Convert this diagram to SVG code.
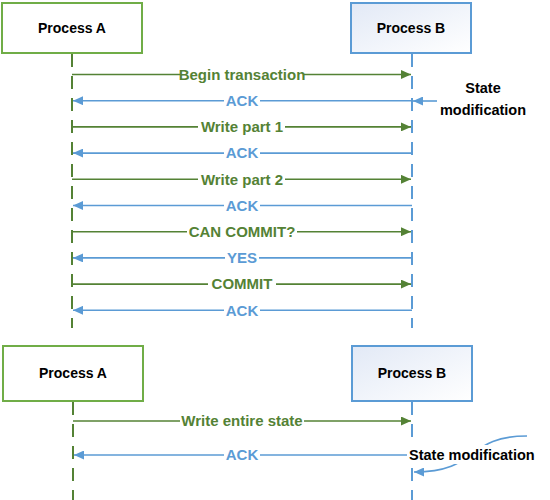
<svg xmlns="http://www.w3.org/2000/svg" width="550" height="500" viewBox="0 0 550 500">
<style>
.boxA{fill:#fff;stroke:#70ad47;stroke-width:2}
.boxB{fill:url(#gB);stroke:#5b9bd5;stroke-width:2}
.title{font-family:"Liberation Sans",Arial,sans-serif;font-weight:bold;font-size:14px;fill:#000;text-anchor:middle}
.lifeA{stroke:#548235;stroke-width:2;stroke-dasharray:13 9;fill:none}
.lifeB{stroke:#5b9bd5;stroke-width:2;stroke-dasharray:13 9;fill:none}
.msgG{stroke:#548235;stroke-width:1.6;fill:none;marker-end:url(#arrG)}
.msgB{stroke:#5b9bd5;stroke-width:1.6;fill:none;marker-end:url(#arrB)}
.lbl{font-family:"Liberation Sans",Arial,sans-serif;font-weight:bold;font-size:15px;text-anchor:middle}
.lg{fill:#548235}
.lb{fill:#5b9bd5}
.bg{fill:#fff}
.note{font-family:"Liberation Sans",Arial,sans-serif;font-weight:bold;font-size:14.5px;fill:#000}
</style>
<defs>
<linearGradient id="gB" x1="0" y1="0" x2="1" y2="1">
<stop offset="0" stop-color="#e2e9f6"/>
<stop offset="1" stop-color="#ffffff"/>
</linearGradient>
<marker id="arrG" markerUnits="userSpaceOnUse" markerWidth="10" markerHeight="9" refX="10" refY="4.5" orient="auto">
<path d="M0,0 L10,4.5 L0,9 z" fill="#548235"/>
</marker>
<marker id="arrB" markerUnits="userSpaceOnUse" markerWidth="10" markerHeight="9" refX="10" refY="4.5" orient="auto">
<path d="M0,0 L10,4.5 L0,9 z" fill="#5b9bd5"/>
</marker>
</defs>

<g id="connectors">
<line class="lifeA" x1="72" y1="54" x2="72" y2="328"/>
<line class="lifeB" x1="412" y1="54" x2="412" y2="328"/>
<line class="lifeA" x1="73" y1="402" x2="73" y2="500"/>
<line class="lifeB" x1="412" y1="402" x2="412" y2="500"/>

<line class="msgG" x1="72" y1="74.5" x2="411" y2="74.5"/>
<line class="msgB" x1="412" y1="100.7" x2="73" y2="100.7"/>
<line class="msgG" x1="72" y1="126.9" x2="411" y2="126.9"/>
<line class="msgB" x1="412" y1="153.1" x2="73" y2="153.1"/>
<line class="msgG" x1="72" y1="179.3" x2="411" y2="179.3"/>
<line class="msgB" x1="412" y1="205.5" x2="73" y2="205.5"/>
<line class="msgG" x1="72" y1="231.7" x2="411" y2="231.7"/>
<line class="msgB" x1="412" y1="257.9" x2="73" y2="257.9"/>
<line class="msgG" x1="72" y1="284.1" x2="411" y2="284.1"/>
<line class="msgB" x1="412" y1="310.3" x2="73" y2="310.3"/>
<line class="msgB" x1="437" y1="101" x2="413" y2="101"/>

<line class="msgG" x1="73" y1="421" x2="411" y2="421"/>
<line class="msgB" x1="412" y1="455" x2="74" y2="455"/>
<path class="msgB" d="M527,436 C465,436 480,472 414,472"/>

<rect class="bg" x="180" y="67" width="124" height="15"/>
<text class="lbl lg" x="242" y="79.8">Begin transaction</text>
<rect class="bg" x="224" y="93" width="36" height="15"/>
<text class="lbl lb" x="242" y="106">ACK</text>
<rect class="bg" x="198" y="119" width="87" height="15"/>
<text class="lbl lg" x="242" y="132.2">Write part 1</text>
<rect class="bg" x="224" y="145.5" width="36" height="15"/>
<text class="lbl lb" x="242" y="158.4">ACK</text>
<rect class="bg" x="198" y="171.5" width="87" height="15"/>
<text class="lbl lg" x="242" y="184.6">Write part 2</text>
<rect class="bg" x="224" y="198" width="36" height="15"/>
<text class="lbl lb" x="242" y="210.8">ACK</text>
<rect class="bg" x="187" y="224" width="110" height="15"/>
<text class="lbl lg" x="242" y="237">CAN COMMIT?</text>
<rect class="bg" x="225" y="250" width="34" height="15"/>
<text class="lbl lb" x="242" y="263.2">YES</text>
<rect class="bg" x="208" y="276.5" width="68" height="15"/>
<text class="lbl lg" x="242" y="289.4">COMMIT</text>
<rect class="bg" x="224" y="303" width="36" height="15"/>
<text class="lbl lb" x="242" y="315.6">ACK</text>

<rect class="bg" x="180" y="413.5" width="124" height="15"/>
<text class="lbl lg" x="242" y="426.3">Write entire state</text>
<rect class="bg" x="224" y="447.5" width="36" height="15"/>
<text class="lbl lb" x="242" y="460.3">ACK</text>
</g>

<g id="procA1">
<rect class="boxA" x="2" y="3" width="140" height="50"/>
<text class="title" x="72" y="33">Process A</text>
</g>
<g id="procB1">
<rect class="boxB" x="351" y="3" width="120" height="50"/>
<text class="title" x="411" y="33">Process B</text>
</g>
<g id="stateMod1">
<text class="note" x="483" y="93" text-anchor="middle">State</text>
<text class="note" x="483" y="115" text-anchor="middle">modification</text>
</g>

<g id="procA2">
<rect class="boxA" x="3" y="346" width="140" height="55"/>
<text class="title" x="73" y="378">Process A</text>
</g>
<g id="procB2">
<rect class="boxB" x="352" y="346" width="120" height="55"/>
<text class="title" x="412" y="378">Process B</text>
</g>
<g id="stateMod2">
<rect class="bg" x="407" y="445" width="134" height="19"/>
<text class="note" x="409" y="460">State modification</text>
</g>
</svg>
